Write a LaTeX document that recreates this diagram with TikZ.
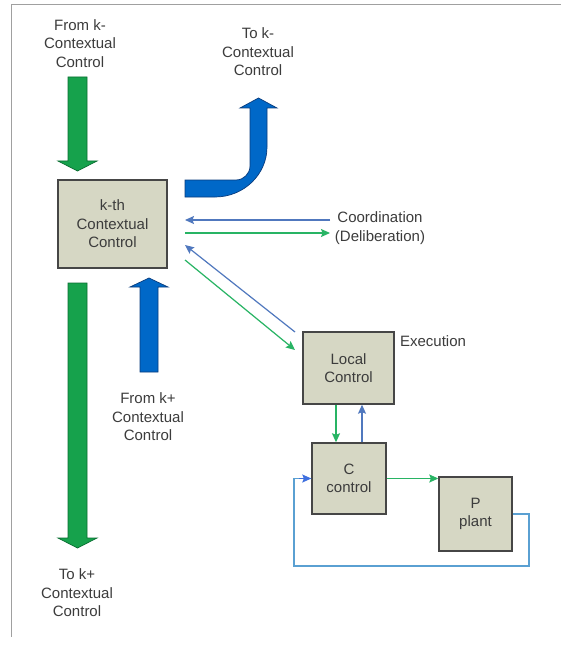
\documentclass[tikz,border=0pt]{standalone}
\usepackage{fontspec}
\setmainfont{Liberation Sans}
\usetikzlibrary{arrows.meta,calc}
\definecolor{framec}{RGB}{160,160,160}
\definecolor{txtc}{RGB}{60,60,60}
\definecolor{boxfill}{RGB}{214,215,196}
\definecolor{boxline}{RGB}{70,70,70}
\definecolor{bigGf}{RGB}{22,162,76}
\definecolor{bigGl}{RGB}{10,110,50}
\definecolor{bigBf}{RGB}{0,104,200}
\definecolor{bigBl}{RGB}{10,60,125}
\definecolor{thinB}{RGB}{80,120,190}
\definecolor{thinG}{RGB}{40,180,100}
\definecolor{fbB}{RGB}{90,160,210}
\begin{document}
\begin{tikzpicture}[x=1pt,y=-1pt,
  lbl/.style={text=txtc,font=\fontsize{15}{18.5}\selectfont,align=center,inner sep=0pt},
  blk/.style={draw=boxline,line width=1.4pt,fill=boxfill,text=txtc,font=\fontsize{15}{18.5}\selectfont,align=center,inner sep=0pt,minimum width=#1},
  bigG/.style={fill=bigGf,draw=bigGl,line width=0.7pt,line join=miter},
  bigB/.style={fill=bigBf,draw=bigBl,line width=0.7pt,line join=miter},
  tipk/.style={-{Stealth[length=9pt,width=8pt,inset=1.5pt]}},
  tb/.style={thinB,line width=1.2pt,tipk},
  tg/.style={thinG,line width=1.2pt,tipk},
  fb/.style={fbB,line width=1.2pt}]
\useasboundingbox (0,0) rectangle (561,647);
\fill[white] (0,0) rectangle (561,647);
\draw[framec,line width=1pt] (561,5) -- (11,5) -- (11,637);

% boxes
\node[blk=109pt,minimum height=88pt] (K) at (112.5,224) {k-th\\Contextual\\Control};
\node[blk=91pt,minimum height=72pt] (L) at (348.5,368) {Local\\Control};
\node[blk=74pt,minimum height=71pt] (C) at (349,478.5) {C\\control};
\node[blk=73pt,minimum height=74pt] (P) at (475.5,514) {P\\plant};

% labels
\node[lbl] (fromkm) at (80,43.5) {From k-\\Contextual\\Control};
\node[lbl] (tokm) at (258,52) {To k-\\Contextual\\Control};
\node[lbl] (fromkp) at (148,417) {From k+\\Contextual\\Control};
\node[lbl] (tokp) at (77,593) {To k+\\Contextual\\Control};
\node[lbl] (coord) at (380,228) {Coordination\\(Deliberation)};
\node[lbl] (exec) at (433,341) {Execution};

% big arrows
\draw[bigG] (68,77) -- (87,77) -- (87,161) -- (97,161) -- (77.5,171) -- (58,161) -- (68,161) -- cycle;
\draw[bigG] (68,283) -- (87,283) -- (87,538) -- (97,538) -- (77.5,548) -- (58,538) -- (68,538) -- cycle;
\draw[bigB] (140,372) -- (158,372) -- (158,287) -- (168,287) -- (149,278) -- (130,287) -- (140,287) -- cycle;
\draw[bigB] (185,180) -- (236,180) .. controls (243.7,180) and (250,173.7) .. (250,166)
  -- (250,108) -- (240,108) -- (258.5,98) -- (277,108) -- (267,108) -- (267,147)
  .. controls (267,174.6) and (243.7,197) .. (215,197) -- (185,197) -- cycle;

% thin connectors
\coordinate (cb1) at (330,220);
\coordinate (cb2) at (185,220);
\coordinate (cg1) at (185,233);
\coordinate (cg2) at (330,233);
\coordinate (db1) at (295,332);
\coordinate (db2) at (185,245);
\coordinate (dg1) at (185,260);
\coordinate (dg2) at (295,350);
\draw[tb] (cb1) -- (cb2);
\draw[tg] (cg1) -- (cg2);
\draw[tb] (db1) -- (db2);
\draw[tg] (dg1) -- (dg2);

\draw[tg] ([xshift=-13pt]C.north |- L.south) -- ([xshift=-13pt]C.north);
\draw[tb] ([xshift=13pt]C.north) -- ([xshift=13pt]C.north |- L.south);
\draw[tg] (C.east) -- (C.east -| P.west);

\coordinate (fb1) at (529,566);
\coordinate (fb2) at (294,566);
\draw[fb] (P.east) -| (fb1) -- (fb2) |- (C.west);
\draw[fbB!70!blue,line width=1.2pt,tipk] ([xshift=-12pt]C.west) -- (C.west);
\end{tikzpicture}
\end{document}
